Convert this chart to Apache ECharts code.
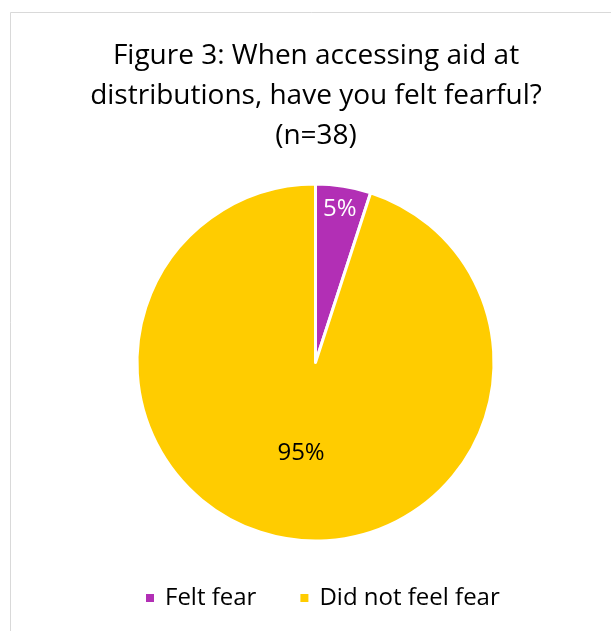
<!DOCTYPE html>
<html><head><meta charset="utf-8">
<script src="https://cdn.jsdelivr.net/npm/echarts@6/dist/echarts.min.js"></script>
<style>html,body{margin:0;padding:0;background:#fff}#c{width:611px;height:631px}</style>
</head><body><div id="c"></div>
<script>
const titleLines = ["Figure 3: When accessing aid at", "distributions, have you felt fearful?", "(n=38)"];
const categories = ["Felt fear", "Did not feel fear"];
const values = [5, 95];
const colors = ["#B22FB5", "#FFCC00"];
const labelColors = ["#ffffff", "#000000"];

const FONT = "'Open Sans', 'Noto Sans', sans-serif";
const chart = echarts.init(document.getElementById('c'), null, {renderer: 'canvas'});
const cx = 315.5, cy = 362.5, R = 178.5;
chart.setOption({
  animation: false,
  backgroundColor: '#fff',
  graphic: [{type: 'rect', shape: {x: 10.5, y: 12.5, width: 700, height: 700}, style: {fill: 'none', stroke: '#d9d9d9', lineWidth: 1}, silent: true}],
  title: {
    text: titleLines.join('\n'), left: 311, top: 31, textAlign: 'center',
    textStyle: {fontFamily: FONT, fontSize: 28, fontWeight: 'normal', color: '#000', lineHeight: 40}
  },
  legend: {
    bottom: 16, left: 139, icon: 'rect', itemWidth: 10, itemHeight: 10, itemGap: 42,
    textStyle: {fontFamily: FONT, fontSize: 24, color: '#000', padding: [0, 0, 0, 5]},
    data: categories
  },
  series: [{
    type: 'pie', center: [cx, cy], radius: [0, R], startAngle: 90, clockwise: true,
    itemStyle: {borderColor: '#fff', borderWidth: 3},
    label: {show: true, position: 'inside', fontFamily: FONT, fontSize: 24, formatter: '{d}%'},
    labelLine: {show: false},
    labelLayout: function (p) {
      if (p.dataIndex === 0) {
        const lx = p.labelRect.x + p.labelRect.width / 2, ly = p.labelRect.y + p.labelRect.height / 2;
        const k = 0.84 / 0.5;
        return {x: cx + (lx - cx) * k, y: cy + (ly - cy) * k, align: 'center', verticalAlign: 'middle'};
      }
      return {};
    },
    data: categories.map((n, i) => ({name: n, value: values[i], itemStyle: {color: colors[i]}, label: {color: labelColors[i]}}))
  }]
});
</script></body></html>
